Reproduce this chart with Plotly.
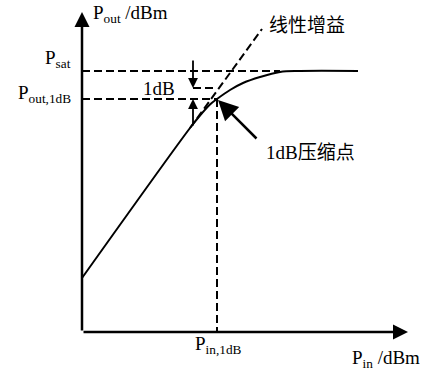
import plotly.graph_objects as go

# ---- data (schematic units: x = input power, y = output power) ----
pin = [0, 108, 118, 128, 135, 148, 161, 178, 198, 218, 276]
pout = [54, 204, 216.5, 227.5, 233, 242, 249, 255, 260, 261, 261]

lin_x = [108, 180]          # linear-gain extrapolation
lin_y = [204, 303]

P_SAT = 261
P_OUT_1DB = 233
P_IN_1DB = 135
LIN_AT_1DB = 244           # linear-gain value at P_in,1dB (1 dB above)
PSAT_DASH_END = 198
ONE_DB_DASH_START = 111

X_AXIS_END = 326
Y_AXIS_END = 320

SERIF = "Liberation Serif"
MIXED = "Liberation Serif, Noto Sans CJK SC"
DASH = "8px,4px"

fig = go.Figure()

# compression curve
fig.add_trace(go.Scatter(x=pin, y=pout, mode="lines", line=dict(color="black", width=2, shape="spline"),
                         hoverinfo="skip"))
# linear gain dashed
fig.add_trace(go.Scatter(x=lin_x, y=lin_y, mode="lines", line=dict(color="black", width=2, dash=DASH),
                         hoverinfo="skip"))
# Psat dashed
fig.add_trace(go.Scatter(x=[0, PSAT_DASH_END], y=[P_SAT, P_SAT], mode="lines",
                         line=dict(color="black", width=2, dash=DASH), hoverinfo="skip"))
# Pout,1dB dashed
fig.add_trace(go.Scatter(x=[0, P_IN_1DB], y=[P_OUT_1DB, P_OUT_1DB], mode="lines",
                         line=dict(color="black", width=2, dash=DASH), hoverinfo="skip"))
# 1dB line dashed
fig.add_trace(go.Scatter(x=[ONE_DB_DASH_START, P_IN_1DB], y=[LIN_AT_1DB, LIN_AT_1DB], mode="lines",
                         line=dict(color="black", width=2, dash=DASH), hoverinfo="skip"))
# vertical dashed at Pin,1dB
fig.add_trace(go.Scatter(x=[P_IN_1DB, P_IN_1DB], y=[P_OUT_1DB, 0], mode="lines",
                         line=dict(color="black", width=2, dash=DASH), hoverinfo="skip"))

def arrow(tip, tail, width, size):
    fig.add_annotation(x=tip[0], y=tip[1], ax=tail[0], ay=tail[1], xref="x", yref="y",
                       axref="x", ayref="y", text="", showarrow=True, arrowhead=2,
                       arrowwidth=width, arrowsize=size, arrowcolor="black")

# axes
arrow((0, Y_AXIS_END), (0, 0), 2.5, 1.2)
arrow((X_AXIS_END, 0), (0, 0), 2.5, 1.2)
# 1 dB arrows
arrow((ONE_DB_DASH_START, LIN_AT_1DB), (ONE_DB_DASH_START, 273), 1.8, 1.1)
arrow((ONE_DB_DASH_START, P_OUT_1DB), (ONE_DB_DASH_START, 205), 1.8, 1.1)
# compression point arrow
arrow((P_IN_1DB + 1, P_OUT_1DB - 1), (176, 192), 2.5, 1.6)

def label(x, y, text, xanchor="left", family=SERIF, size=19):
    fig.add_annotation(x=x, y=y, xref="x", yref="y", text=text, showarrow=False,
                       xanchor=xanchor, yanchor="middle", font=dict(family=family, size=size, color="black"))

label(9, 318, "P<sub>out</sub> /dBm")
label(-9, 273, "P<sub>sat</sub>", xanchor="right")
label(-9, 238, "P<sub>out,1dB</sub>", xanchor="right")
label(77, 244, "1dB", xanchor="center")
label(185, 307, "线性增益", family=MIXED, size=19)
label(182, 180, "1dB压缩点", family=MIXED, size=19)
label(P_IN_1DB + 1, -13, "P<sub>in,1dB</sub>", xanchor="center")
label(268, -27, "P<sub>in</sub> /dBm")

fig.update_layout(
    width=438, height=372, margin=dict(l=0, r=0, t=0, b=0),
    paper_bgcolor="white", plot_bgcolor="white", showlegend=False,
    xaxis=dict(range=[-82, 356], visible=False, fixedrange=True),
    yaxis=dict(range=[-40, 332], visible=False, fixedrange=True),
)

fig.write_html("out.html")
